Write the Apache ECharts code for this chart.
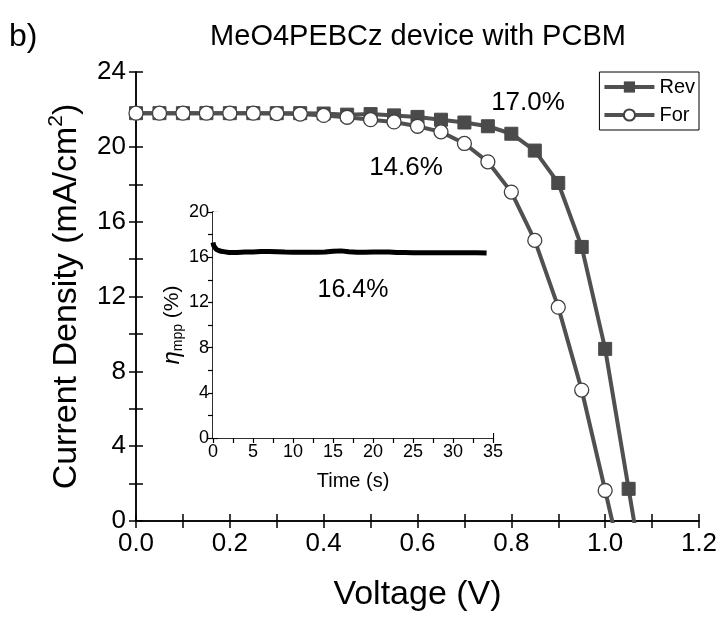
<!DOCTYPE html>
<html>
<head>
<meta charset="utf-8">
<script src="https://cdn.jsdelivr.net/npm/echarts@6/dist/echarts.min.js"></script>
<style>
html,body{margin:0;padding:0;background:#fff;}
#c{width:724px;height:617px;}
</style>
</head>
<body>
<div id="c"></div>
<script>
// Main J-V data
const voltage = [0, 0.05, 0.10, 0.15, 0.20, 0.25, 0.30, 0.35, 0.40, 0.45, 0.50, 0.55, 0.60, 0.65, 0.70, 0.75, 0.80, 0.85, 0.90, 0.95, 1.00, 1.05, 1.10];
const revJ = [21.8, 21.8, 21.8, 21.8, 21.8, 21.8, 21.8, 21.8, 21.78, 21.72, 21.75, 21.68, 21.6, 21.45, 21.3, 21.1, 20.7, 19.8, 18.07, 14.65, 9.2, 1.72, -5.8];
const forJ = [21.8, 21.8, 21.8, 21.8, 21.8, 21.8, 21.78, 21.75, 21.68, 21.58, 21.45, 21.33, 21.1, 20.8, 20.18, 19.2, 17.58, 15.0, 11.43, 7.0, 1.63, -3.8];
const seriesNames = ['Rev', 'For'];
// Inset: stabilized power output
const timeS = [0, 0.1, 0.2, 0.4, 0.7, 1, 1.5, 2, 3, 4, 5, 6, 7, 8, 9, 10, 11, 12, 13, 14, 15, 16, 17, 18, 19, 20, 21, 22, 23, 24, 25, 26, 27, 28, 29, 30, 31, 32, 33, 34.2];
const etaMpp = [17.3, 17.0, 16.85, 16.7, 16.6, 16.52, 16.47, 16.42, 16.42, 16.45, 16.47, 16.5, 16.5, 16.48, 16.45, 16.44, 16.43, 16.43, 16.44, 16.46, 16.52, 16.56, 16.48, 16.44, 16.43, 16.46, 16.45, 16.47, 16.42, 16.41, 16.4, 16.4, 16.4, 16.4, 16.4, 16.4, 16.4, 16.4, 16.4, 16.38];
// tick steps: every 'label'-th tick carries a label
const xTicks = {min: 0, max: 1.2, tick: 0.1, label: 0.2};
const yTicks = {min: 0, max: 24, tick: 2, label: 4};
const insetXTicks = {min: 0, max: 35, tick: 2.5, label: 5};
const insetYTicks = {min: 0, max: 20, tick: 2, label: 4};
const annotations = [
  {text: '17.0%', x: 528, y: 103, size: 26},
  {text: '14.6%', x: 406, y: 168, size: 26},
  {text: '16.4%', x: 353, y: 290, size: 25}
];

const FONT = 'Liberation Sans, Arial, sans-serif';
const chart = echarts.init(document.getElementById('c'));

function pairs(xs, ys, hideFrom) {
  return ys.map((y, i) => {
    const item = {value: [xs[i], y]};
    if (hideFrom !== undefined && i >= hideFrom) item.symbol = 'none';
    return item;
  });
}
function labelFmt(t, digits) {
  return v => {
    const k = Math.round(v / t.tick);
    const every = Math.round(t.label / t.tick);
    return k % every === 0 ? v.toFixed(digits) : '';
  };
}

const axisLine = {show: true, lineStyle: {color: '#000', width: 1.5}};
const tickIn = {show: true, inside: true, length: 7, lineStyle: {color: '#000', width: 1.5}};

function mainX(pos, showLabel) {
  return {
    type: 'value', gridIndex: 0, position: pos,
    min: xTicks.min, max: xTicks.max, interval: xTicks.tick,
    axisLine: axisLine, axisTick: tickIn, splitLine: {show: false},
    axisLabel: {show: showLabel, fontSize: 26, color: '#000', fontFamily: FONT, margin: 10,
      showMinLabel: true, showMaxLabel: true, hideOverlap: false, interval: 0,
      formatter: labelFmt(xTicks, 1)},
    name: showLabel ? 'Voltage (V)' : '', nameLocation: 'middle', nameGap: 57,
    nameTextStyle: {fontSize: 34, color: '#000', fontFamily: FONT}
  };
}
function mainY(pos, showLabel) {
  return {
    type: 'value', gridIndex: 0, position: pos,
    min: yTicks.min, max: yTicks.max, interval: yTicks.tick,
    axisLine: axisLine, axisTick: tickIn, splitLine: {show: false},
    axisLabel: {show: showLabel, fontSize: 26, color: '#000', fontFamily: FONT, margin: 10,
      hideOverlap: false, formatter: labelFmt(yTicks, 0)},
    name: showLabel ? 'Current Density (mA/cm{sup|2})' : '', nameLocation: 'middle', nameGap: 45, nameRotate: 90,
    nameTextStyle: {fontSize: 34, color: '#000', fontFamily: FONT, lineHeight: 40, verticalAlign: 'middle',
      rich: {sup: {fontSize: 21, color: '#000', fontFamily: FONT, verticalAlign: 'top', lineHeight: 22}}}
  };
}
const insetTick = {show: true, inside: true, length: 5, lineStyle: {color: '#000', width: 1.2}};
const insetLine = {show: true, lineStyle: {color: '#222', width: 1.5}};
function insetX(pos, showLabel) {
  return {
    type: 'value', gridIndex: 1, position: pos,
    min: insetXTicks.min, max: insetXTicks.max, interval: insetXTicks.tick,
    axisLine: insetLine, axisTick: insetTick, splitLine: {show: false},
    axisLabel: {show: showLabel, fontSize: 18, color: '#000', fontFamily: FONT, margin: 5,
      hideOverlap: false, formatter: labelFmt(insetXTicks, 0)},
    name: showLabel ? 'Time (s)' : '', nameLocation: 'middle', nameGap: 33,
    nameTextStyle: {fontSize: 20, color: '#000', fontFamily: FONT}
  };
}
function insetY(pos, showLabel) {
  return {
    type: 'value', gridIndex: 1, position: pos,
    min: insetYTicks.min, max: insetYTicks.max, interval: insetYTicks.tick,
    axisLine: insetLine, axisTick: insetTick, splitLine: {show: false},
    axisLabel: {show: showLabel, fontSize: 18, color: '#000', fontFamily: FONT, margin: 4,
      hideOverlap: false, formatter: labelFmt(insetYTicks, 0)},
    name: showLabel ? '{it|η}{sub|mpp} (%)' : '', nameLocation: 'middle', nameGap: 28, nameRotate: 90,
    nameTextStyle: {fontSize: 21, color: '#000', fontFamily: FONT, lineHeight: 26, verticalAlign: 'middle',
      rich: {
        it: {fontSize: 24, fontStyle: 'italic', color: '#000', fontFamily: FONT, lineHeight: 26},
        sub: {fontSize: 14, color: '#000', fontFamily: FONT, verticalAlign: 'bottom', lineHeight: 14}
      }}
  };
}

const graphics = [
  {type: 'text', left: 9, top: 21, style: {text: 'b)', fontSize: 32, fill: '#000', fontFamily: FONT}},
  {type: 'text', x: 418, y: 37, style: {text: 'MeO4PEBCz device with PCBM', fontSize: 29, fill: '#000', fontFamily: FONT, textAlign: 'center', textVerticalAlign: 'middle'}}
].concat(annotations.map(a => ({type: 'text', x: a.x, y: a.y, z: 50,
  style: {text: a.text, fontSize: a.size, fill: '#000', fontFamily: FONT, textAlign: 'center', textVerticalAlign: 'middle'}})));

chart.setOption({
  animation: false,
  backgroundColor: '#fff',
  textStyle: {fontFamily: FONT},
  grid: [
    {left: 136, right: 25, top: 72, bottom: 91},
    {left: 213, top: 212, width: 280, height: 226, show: true, backgroundColor: '#fff', borderWidth: 0, z: 5}
  ],
  legend: {
    data: seriesNames, orient: 'vertical', right: 25, top: 72,
    backgroundColor: '#fff', borderColor: '#000', borderWidth: 1, borderRadius: 0,
    padding: [5, 4, 5, 3], itemGap: 8, itemWidth: 50, itemHeight: 14,
    lineStyle: {width: 4, color: '#505050'},
    textStyle: {fontSize: 20, color: '#000', fontFamily: FONT}, z: 20
  },
  xAxis: [mainX('bottom', true), mainX('top', false), insetX('bottom', true), insetX('top', false)],
  yAxis: [mainY('left', true), mainY('right', false), insetY('left', true), insetY('right', false)],
  series: [
    {name: 'Rev', type: 'line', xAxisIndex: 0, yAxisIndex: 0, data: pairs(voltage, revJ, 22),
      symbol: 'rect', symbolSize: 13, showAllSymbol: true, clip: true,
      lineStyle: {color: '#505050', width: 4}, itemStyle: {color: '#4a4a4a', borderColor: '#4a4a4a'}, z: 3},
    {name: 'For', type: 'line', xAxisIndex: 0, yAxisIndex: 0, data: pairs(voltage, forJ, 21),
      symbol: 'circle', symbolSize: 14, showAllSymbol: true, clip: true,
      lineStyle: {color: '#505050', width: 4}, itemStyle: {color: '#fff', borderColor: '#404040', borderWidth: 1.3}, z: 4},
    {name: 'eta', type: 'line', xAxisIndex: 2, yAxisIndex: 2, data: pairs(timeS, etaMpp),
      symbol: 'none', lineStyle: {color: '#000', width: 5}, z: 6}
  ],
  graphic: graphics
});
</script>
</body>
</html>
